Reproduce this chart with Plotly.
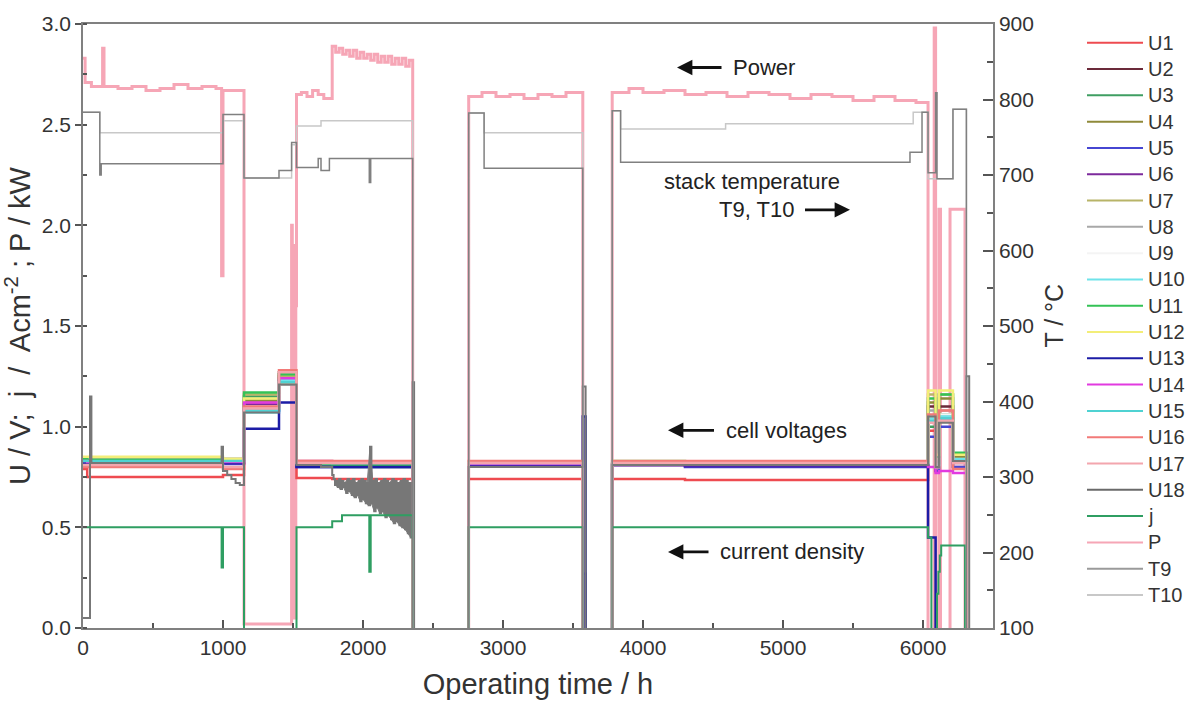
import plotly.graph_objects as go

# ---------------- data ----------------
names = ["U1", "U2", "U3", "U4", "U5", "U6", "U7", "U8", "U9", "U10", "U11", "U12",
         "U13", "U14", "U15", "U16", "U17", "U18", "j", "P", "T9", "T10"]
colors = ["#ee4b50", "#6b2a3a", "#3f9e62", "#8f8a3a", "#4646d2", "#7d2a9c", "#b8b468", "#a8a8a8",
          "#f4f4f4", "#6fe3ea", "#34c256", "#f3ee78", "#1c1ca6", "#e23ae0", "#4fd2d2", "#f27a78",
          "#f3a6ae", "#6a6a6a", "#2f9e62", "#f6a6b6", "#9a9a9a", "#c8c8c8"]

Z = -0.05  # stack off (below axis)
t_cell = [0, 30, 990, 1000, 1150, 1400, 1490, 1525, 1780, 2355, 2365, 2755, 3570, 3590,
          3780, 4300, 6036, 6090, 6114, 6214, 6310, 6330, 6500]
U1 = [0.79, 0.75, 0.75, 0.76, 1.12, 1.25, 1.25, 0.745, 0.74, Z, Z, 0.74, Z, Z, 0.74, 0.735, 0.98, 0.78, 1.05, 0.80, Z, Z, Z]
U2 = [0.84, 0.83, 0.83, 0.835, 1.10, 1.27, 1.27, 0.815, 0.81, Z, Z, 0.81, Z, Z, 0.815, 0.815, 1.10, 0.82, 1.10, 0.85, Z, Z, Z]
U3 = [0.84, 0.835, 0.835, 0.83, 1.15, 1.26, 1.26, 0.81, 0.80, Z, Z, 0.805, Z, Z, 0.81, 0.81, 1.00, 0.80, 1.06, 0.86, Z, Z, Z]
U4 = [0.83, 0.83, 0.83, 0.84, 1.13, 1.24, 1.24, 0.82, 0.815, Z, Z, 0.82, Z, Z, 0.82, 0.815, 1.12, 0.82, 1.14, 0.85, Z, Z, Z]
U5 = [0.82, 0.82, 0.82, 0.815, 1.08, 1.22, 1.22, 0.80, 0.80, Z, Z, 0.81, 0.27, Z, 0.815, 0.80, 0.95, 0.78, 1.00, 0.80, Z, Z, Z]
U6 = [0.83, 0.82, 0.82, 0.82, 1.11, 1.23, 1.23, 0.815, 0.81, Z, Z, 0.81, Z, Z, 0.81, 0.805, 1.02, 0.80, 1.04, 0.82, Z, Z, Z]
U7 = [0.84, 0.84, 0.84, 0.84, 1.16, 1.25, 1.25, 0.82, 0.82, Z, Z, 0.82, Z, Z, 0.82, 0.82, 1.16, 0.84, 1.16, 0.84, Z, Z, Z]
U8 = [0.83, 0.83, 0.83, 0.83, 1.09, 1.21, 1.21, 0.82, 0.815, Z, Z, 0.815, Z, Z, 0.815, 0.81, 1.08, 0.80, 1.08, 0.83, Z, Z, Z]
U9 = [0.83, 0.83, 0.83, 0.83, 1.10, 1.22, 1.22, 0.82, 0.82, Z, Z, 0.82, Z, Z, 0.82, 0.82, 1.05, 0.81, 1.06, 0.83, Z, Z, Z]
U10 = [0.84, 0.835, 0.835, 0.83, 1.07, 1.23, 1.23, 0.82, 0.82, Z, Z, 0.815, Z, Z, 0.83, 0.82, 1.04, 0.81, 1.05, 0.84, Z, Z, Z]
U11 = [0.84, 0.835, 0.835, 0.835, 1.17, 1.26, 1.26, 0.815, 0.81, Z, Z, 0.815, Z, Z, 0.815, 0.815, 1.14, 0.85, 1.16, 0.87, Z, Z, Z]
U12 = [0.85, 0.85, 0.85, 0.84, 1.14, 1.22, 1.22, 0.83, 0.825, Z, Z, 0.82, Z, Z, 0.83, 0.825, 1.18, 0.86, 1.18, 0.86, Z, Z, Z]
U13 = [0.82, 0.82, 0.82, 0.82, 0.99, 1.12, 1.12, 0.80, 0.80, Z, Z, 0.805, 1.05, Z, 0.81, 0.805, 0.45, Z, Z, Z, Z, Z, Z]
U14 = [0.83, 0.825, 0.825, 0.825, 1.12, 1.24, 1.24, 0.83, 0.82, Z, Z, 0.815, Z, Z, 0.81, 0.81, 0.80, 0.77, 0.78, 0.77, Z, Z, Z]
U15 = [0.83, 0.83, 0.83, 0.83, 1.08, 1.22, 1.22, 0.82, 0.82, Z, Z, 0.82, Z, Z, 0.825, 0.82, 1.03, 0.80, 1.04, 0.83, Z, Z, Z]
U16 = [0.80, 0.80, 0.80, 0.79, 1.10, 1.28, 1.28, 0.83, 0.83, Z, Z, 0.83, Z, Z, 0.83, 0.83, 1.06, 0.80, 1.08, 0.79, Z, Z, Z]
U17 = [0.81, 0.81, 0.81, 0.80, 1.09, 1.27, 1.27, 0.82, 0.82, Z, Z, 0.82, Z, Z, 0.82, 0.82, 1.02, 0.80, 1.03, 0.82, Z, Z, Z]

t_U18 = [0, 50, 60, 990, 1000, 1030, 1060, 1090, 1120, 1150, 1400, 1525, 1700, 1780,
         1790, 1800, 1810, 1820, 1830, 1840, 1850, 1860, 1870, 1880, 1890, 1900, 1910, 1920,
         1930, 1940, 1950, 1960, 1970, 1980, 1990, 2000, 2010, 2020, 2030, 2040, 2050, 2060,
         2070, 2080, 2090, 2100, 2110, 2120, 2130, 2140, 2150, 2160, 2170, 2180, 2190, 2200,
         2210, 2220, 2230, 2240, 2250, 2260, 2270, 2280, 2290, 2300, 2310, 2320, 2330, 2340,
         2355, 2365, 2755, 3570, 3590, 3780, 6036, 6090, 6114, 6214, 6310, 6330]
U18 = [0.05, 1.15, 0.82, 0.90, 0.78, 0.76, 0.74, 0.72, 0.71, 1.07, 1.21, 0.81, 0.80, 0.76,
       0.74, 0.71, 0.73, 0.70, 0.74, 0.69, 0.73, 0.70, 0.72, 0.67, 0.74, 0.68, 0.73, 0.66,
       0.74, 0.65, 0.72, 0.66, 0.73, 0.63, 0.74, 0.64, 0.73, 0.62, 0.72, 0.61, 0.90, 0.62,
       0.73, 0.58, 0.74, 0.60, 0.72, 0.57, 0.73, 0.58, 0.74, 0.55, 0.73, 0.56, 0.72, 0.54,
       0.74, 0.52, 0.73, 0.53, 0.72, 0.51, 0.73, 0.50, 0.74, 0.49, 0.73, 0.47, 0.72, 0.45,
       1.22, Z, 0.80, 1.20, Z, 0.81, 1.05, 0.80, 1.02, 0.83, 1.25, Z]

t_j = [0, 990, 1000, 1150, 1525, 1780, 1850, 2045, 2055, 2355, 2755, 3570, 3780,
       6036, 6060, 6100, 6110, 6120, 6130, 6214, 6300, 6320]
j = [0.50, 0.30, 0.50, Z, 0.50, 0.53, 0.56, 0.28, 0.56, Z, 0.50, Z, 0.50,
     0.45, Z, 0.17, 0.28, 0.36, 0.41, 0.41, Z, Z]

t_P = [0, 15, 60, 140, 150, 250, 350, 450, 550, 650, 750, 850, 950, 990, 1000, 1150,
       1490, 1495, 1500, 1505, 1510, 1515, 1520, 1525, 1560, 1600, 1640, 1680, 1720,
       1780, 1805, 1830, 1855, 1880, 1905, 1930, 1955, 1980, 2005, 2030, 2055, 2080, 2105,
       2130, 2155, 2180, 2205, 2230, 2255, 2280, 2305, 2330, 2355,
       2755, 2850, 2950, 3050, 3150, 3250, 3350, 3450, 3570,
       3780, 3900, 4000, 4150, 4300, 4450, 4600, 4750, 4900, 5050, 5200, 5350, 5500, 5650,
       5800, 5950, 6036, 6080, 6090, 6114, 6125, 6193, 6300]
P = [2.83, 2.71, 2.69, 2.88, 2.69, 2.68, 2.69, 2.67, 2.68, 2.70, 2.68, 2.69, 2.68, 1.75, 2.67, 0.02,
     2.00, 0.05, 1.90, 0.05, 1.70, 0.05, 1.60, 2.65, 2.66, 2.64, 2.67, 2.65, 2.63,
     2.89, 2.86, 2.88, 2.85, 2.87, 2.84, 2.87, 2.83, 2.86, 2.83, 2.85, 2.82, 2.85, 2.81,
     2.84, 2.81, 2.84, 2.80, 2.83, 2.80, 2.83, 2.79, 2.82, Z,
     2.64, 2.66, 2.64, 2.65, 2.63, 2.65, 2.64, 2.66, Z,
     2.66, 2.68, 2.66, 2.67, 2.65, 2.66, 2.64, 2.66, 2.65, 2.63, 2.65, 2.64, 2.62, 2.64,
     2.62, 2.61, Z, 2.98, Z, 2.08, Z, 2.08, Z]

TOFF = 80
t_T9 = [0, 120, 130, 1000, 1150, 1400, 1490, 1525, 1680, 1700, 1760, 2045, 2055, 2355,
        2755, 2865, 3570, 3780, 3840, 5907, 5993, 6036, 6090, 6100, 6214, 6310]
T9 = [783, 700, 715, 780, 696, 706, 743, 710, 722, 706, 722, 690, 722, TOFF,
      782, 709, TOFF, 785, 717, 730, 783, 703, 809, 695, 787, TOFF]
t_T10 = [0, 120, 1000, 1150, 1490, 1525, 1700, 2355, 2755, 2865, 3570, 3780, 3840,
         4590, 5930, 6036, 6214, 6310]
T10 = [783, 756, 772, 696, 740, 765, 772, TOFF, 782, 756, TOFF, 785, 761,
       768, 783, 695, 787, TOFF]

cells = [U1, U2, U3, U4, U5, U6, U7, U8, U9, U10, U11, U12, U13, U14, U15, U16, U17]

# ---------------- figure ----------------
FONT = "Liberation Sans, Arial, sans-serif"
fig = go.Figure()

def ln(color, width):
    return dict(color=color, width=width, shape="hv", simplify=False)

fig.add_trace(go.Scatter(x=t_T10, y=T10, yaxis="y2", mode="lines", line=ln(colors[21], 1.5), name="T10"))
fig.add_trace(go.Scatter(x=t_T9, y=T9, yaxis="y2", mode="lines", line=ln("#808080", 1.5), name="T9"))
fig.add_trace(go.Scatter(x=t_P, y=P, mode="lines", line=ln(colors[19], 3), name="P"))
for i, vals in enumerate(cells):
    fig.add_trace(go.Scatter(x=t_cell, y=vals, mode="lines", line=ln(colors[i], 2.5), name=names[i]))

# U18 fluctuating part: shade between the upper and lower swing of the same readings
zz_t, zz_v = t_U18[14:70], U18[14:70]
hi_t, hi_v = zz_t[0::2], zz_v[0::2]
lo_t, lo_v = zz_t[1::2], zz_v[1::2]
fig.add_trace(go.Scatter(x=hi_t + lo_t[::-1], y=hi_v + lo_v[::-1], mode="lines", fill="toself",
                         fillcolor="#7f7f7f", line=dict(color="#7f7f7f", width=1), showlegend=False,
                         hoverinfo="skip"))
fig.add_trace(go.Scatter(x=t_U18, y=U18, mode="lines", line=ln("#777777", 2.0), name="U18"))
fig.add_trace(go.Scatter(x=t_j, y=j, mode="lines", line=ln(colors[18], 2), name="j"))

TICKFONT = dict(family=FONT, size=21, color="#333333")
TITLEFONT = dict(family=FONT, size=29, color="#333333")
axis_common = dict(showgrid=False, zeroline=False, showline=True, linecolor="#808080", linewidth=1.5,
                   tickcolor="#555555", tickwidth=1.5, tickfont=TICKFONT)

fig.update_layout(
    width=1198, height=710,
    margin=dict(l=83, r=205, t=17, b=82),
    plot_bgcolor="white", paper_bgcolor="white",
    showlegend=False,
    font=dict(family=FONT, color="#333333"),
    xaxis=dict(range=[0, 6500], tick0=0, dtick=1000, ticks="inside", ticklen=8, mirror=True,
               minor=dict(dtick=500, ticks="inside", ticklen=5, tickcolor="#555555"),
               title=dict(text="Operating time / h", font=TITLEFONT, standoff=16),
               **axis_common),
    yaxis=dict(range=[0, 3], dtick=0.5, tickformat=".1f", ticks="outside", ticklen=6,
               minor=dict(dtick=0.25, ticks="inside", ticklen=4, tickcolor="#555555"),
               title=dict(text="U / V;  j  /  Acm<sup>-2</sup> ; P / kW", font=TITLEFONT, standoff=4),
               **axis_common),
    yaxis2=dict(range=[100, 900], dtick=100, overlaying="y", side="right", ticks="inside", ticklen=10,
                minor=dict(dtick=50, ticks="inside", ticklen=6, tickcolor="#555555"),
                **axis_common),
)

PLOT_L, PLOT_R, PLOT_T, PLOT_B = 83, 993, 17, 628
def px2paper(px, py):
    return (px - PLOT_L) / (PLOT_R - PLOT_L), (PLOT_B - py) / (PLOT_B - PLOT_T)

# right axis title
rx, ry = px2paper(1054, 312)
fig.add_annotation(x=rx, y=ry, xref="paper", yref="paper", text="T / °C", textangle=-90,
                   xanchor="center", yanchor="middle", showarrow=False,
                   font=dict(family=FONT, size=25, color="#333333"))

# manual legend
for i, (nm, c) in enumerate(zip(names, colors)):
    py = 36 + i * 26.6
    x0, y0 = px2paper(1087, py)
    x1, _ = px2paper(1143, py)
    xt, _ = px2paper(1146, py)
    fig.add_shape(type="line", xref="paper", yref="paper", x0=x0, x1=x1, y0=y0, y1=y0,
                  line=dict(color=c, width=2))
    fig.add_annotation(x=xt, y=y0, xref="paper", yref="paper", text=nm, showarrow=False,
                       xanchor="left", yanchor="middle", font=dict(family=FONT, size=20, color="#333333"))

# text labels
labels = [("stack temperature", 662, 176)]
for txt, px, py in labels:
    lx, ly = px2paper(px, py)
    fig.add_annotation(x=lx, y=ly, xref="paper", yref="paper", text=txt, showarrow=False,
                       xanchor="left", yanchor="middle", font=dict(family=FONT, size=22, color="#222222"))

# labels with arrows: (text, arrow head px, py, text centre px)
arrow_labels = [("Power", 677, 61, 764), ("T9, T10", 850, 205, 756),
                ("cell voltages", 668, 428, 786), ("current density", 668, 551, 792)]
for txt, hx, hy, cx in arrow_labels:
    ax_, ay_ = px2paper(hx, hy)
    fig.add_annotation(x=ax_, y=ay_, xref="paper", yref="paper", text=txt, showarrow=True,
                       ax=cx - hx, ay=0, startstandoff=10, arrowhead=2, arrowsize=1.1, arrowwidth=2.8,
                       arrowcolor="#111111", font=dict(family=FONT, size=22, color="#222222"))

fig.write_html("out.html")
